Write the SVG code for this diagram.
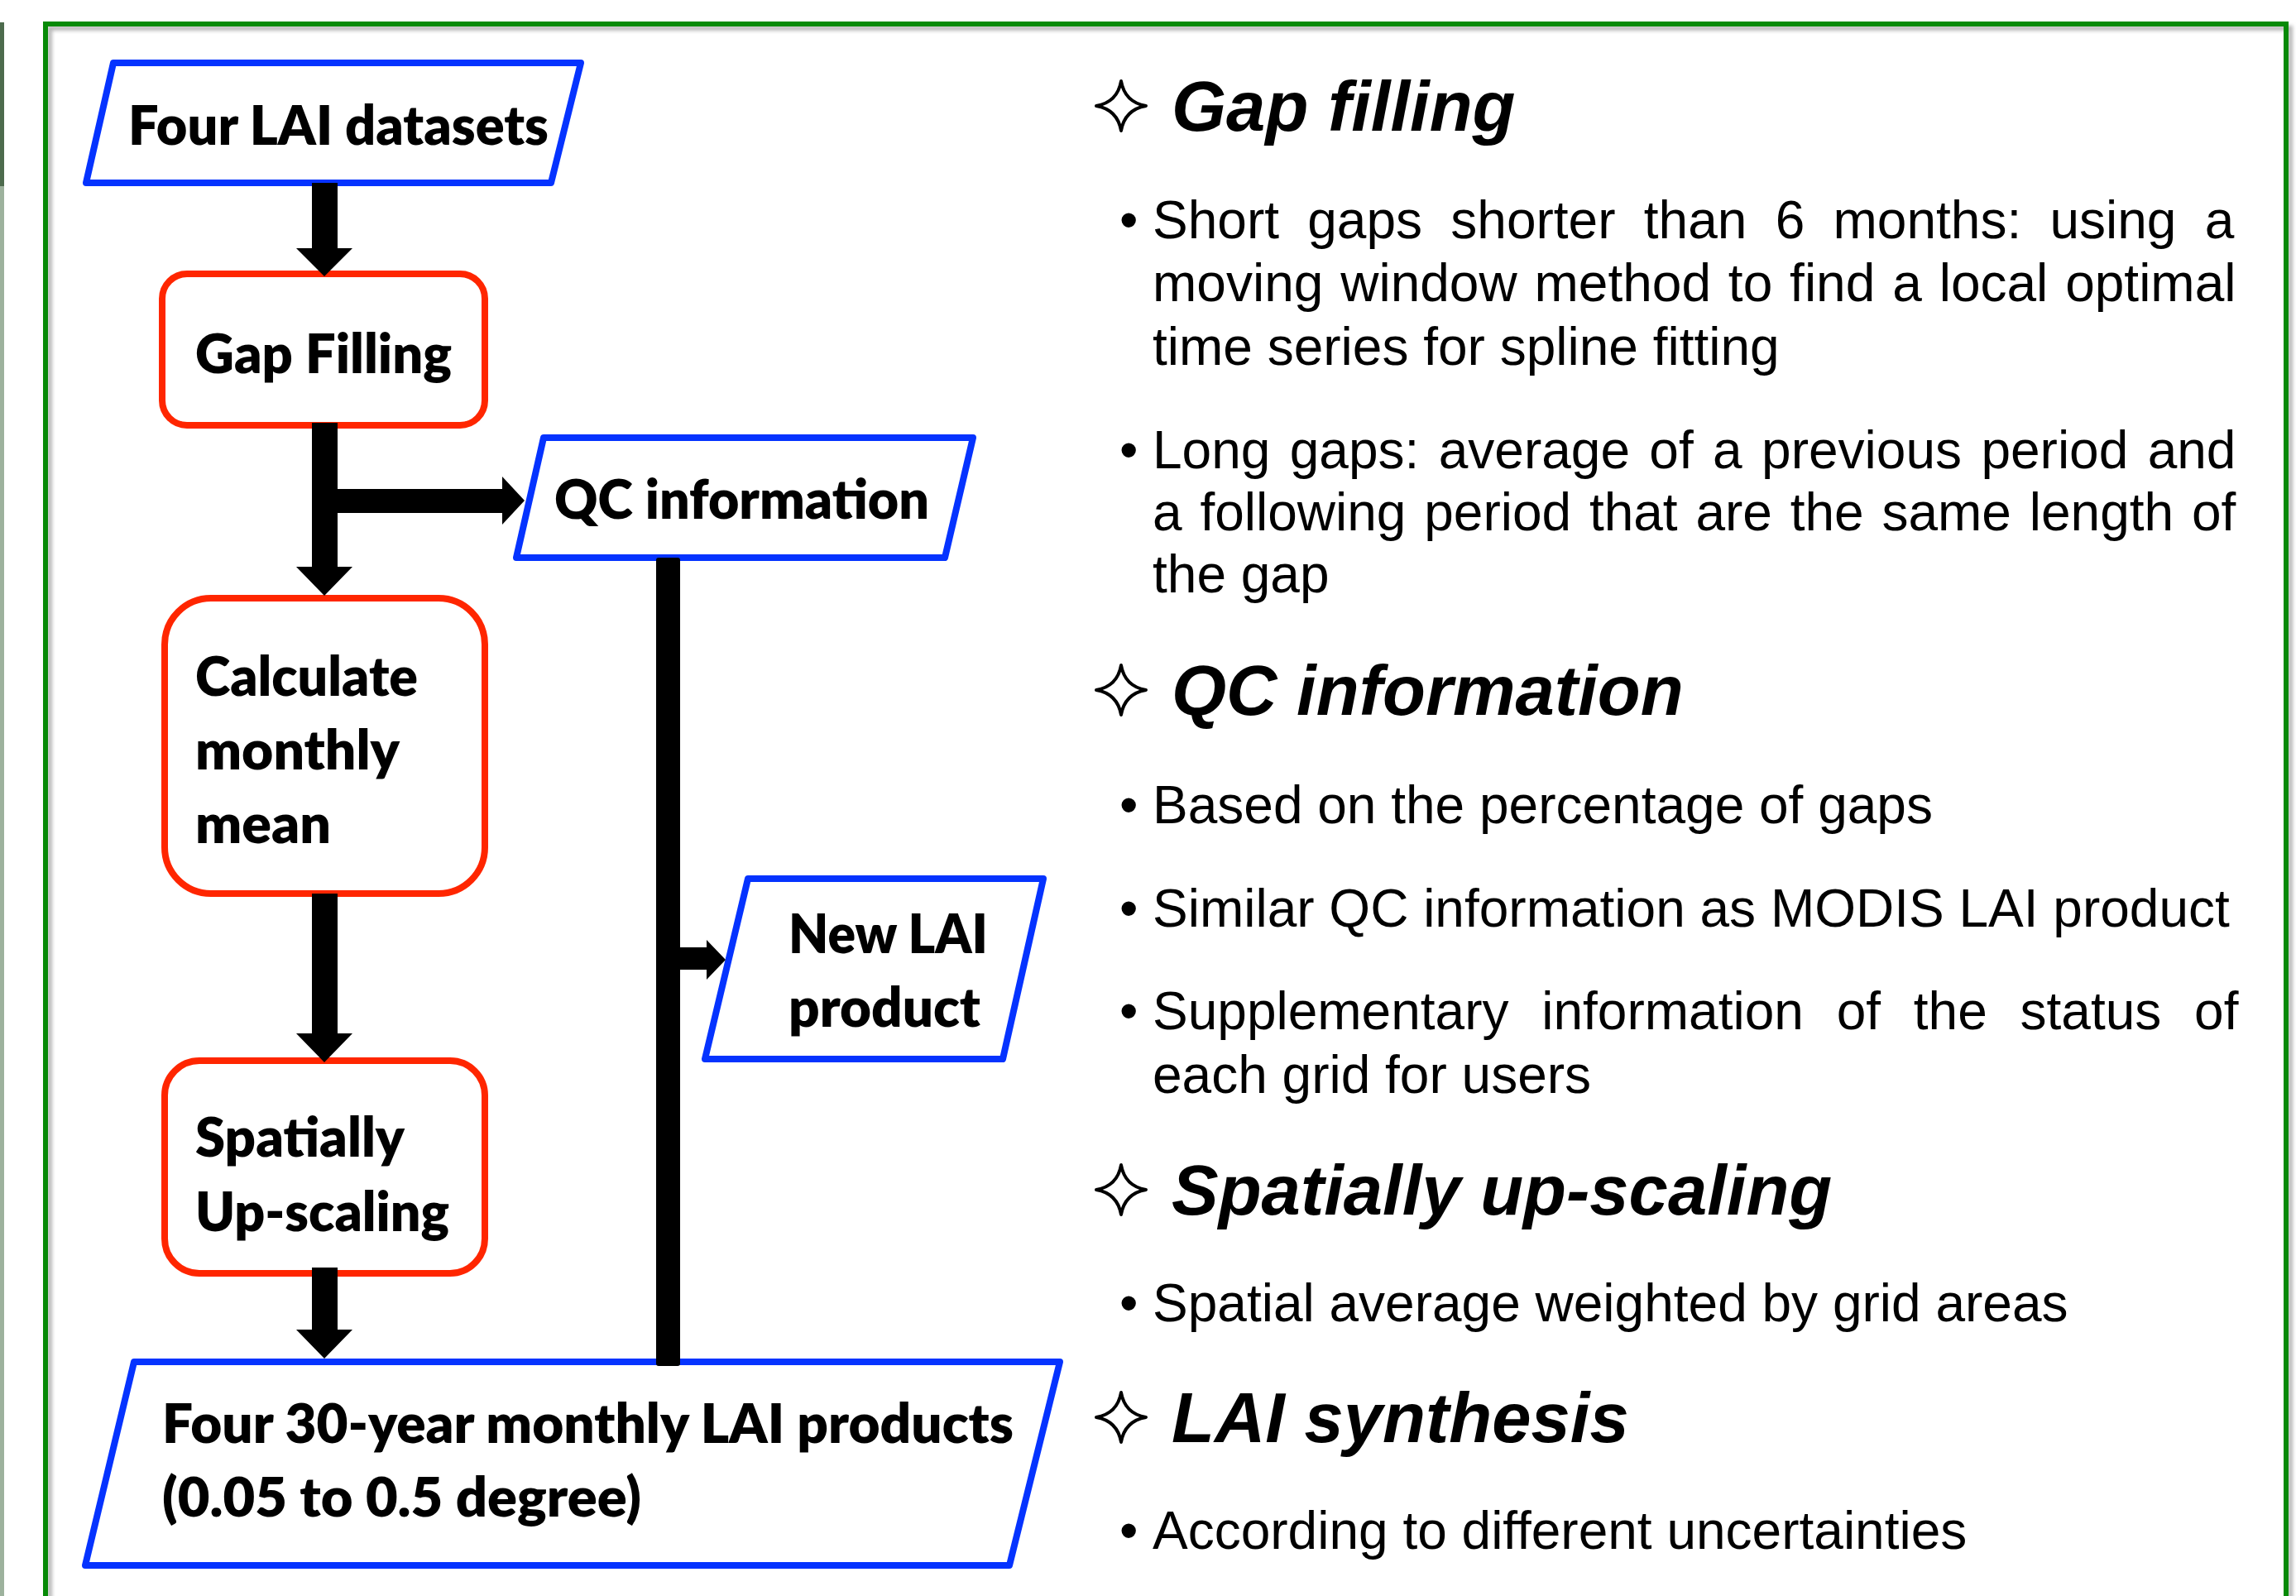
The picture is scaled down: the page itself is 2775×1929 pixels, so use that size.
<svg xmlns="http://www.w3.org/2000/svg" width="2775" height="1929" viewBox="0 0 2775 1929">
  <style>
    .io { fill: #ffffff; stroke: #0533ff; stroke-width: 8; stroke-linejoin: round; }
    .proc { fill: #ffffff; stroke: #ff2600; stroke-width: 8; }
    .flow { font-family: Lato, "Open Sans", "Liberation Sans", sans-serif; font-weight: 800; font-size: 66px; fill: #000; }
    .arrow { fill: #000; }
    .head { font-family: "Liberation Sans", Arial, sans-serif; font-weight: 700; font-style: italic; font-size: 85px; fill: #000; }
    .body { font-family: "Liberation Sans", Arial, sans-serif; font-size: 64px; fill: #000; }
    .star { fill: none; stroke: #000; stroke-width: 4; stroke-linejoin: round; }
  </style>
  <defs>
    <filter id="soft" x="-5%" y="-5%" width="110%" height="110%">
      <feGaussianBlur stdDeviation="2"/>
    </filter>
    <!-- four-pointed outline star used as section marker -->
    <path id="starMark" class="star" d="M0,-30 Q4.5,-4.5 30,0 Q4.5,4.5 0,30 Q-4.5,4.5 -30,0 Q-4.5,-4.5 0,-30 Z"/>
  </defs>

  <rect width="2775" height="1929" fill="#ffffff"/>

  <!-- edge of the neighbouring panel -->
  <rect x="0" y="27" width="5" height="198" fill="#4d6b4d"/>
  <rect x="0" y="225" width="5" height="1704" fill="#9db29d"/>

  <!-- green frame with soft shadow -->
  <rect x="60" y="34" width="2708" height="2000" fill="none" stroke="#b8b8b8" stroke-width="6" filter="url(#soft)"/>
  <rect x="55" y="29" width="2708" height="2000" fill="none" stroke="#078a07" stroke-width="6"/>

  <!-- flowchart nodes -->
  <g id="node-four-lai-datasets">
    <polygon class="io" points="137,76 702,76 666,221 104,221"/>
    <text class="flow" x="155" y="175" textLength="508" lengthAdjust="spacingAndGlyphs">Four LAI datasets</text>
  </g>
  <g id="node-gap-filling">
    <rect class="proc" x="196" y="331" width="390" height="183" rx="30" ry="30"/>
    <text class="flow" x="236" y="451" textLength="310" lengthAdjust="spacingAndGlyphs">Gap Filling</text>
  </g>
  <g id="node-qc-information">
    <polygon class="io" points="657,529 1176,529 1142,674 624,674"/>
    <text class="flow" x="670" y="627" textLength="453" lengthAdjust="spacingAndGlyphs">QC information</text>
  </g>
  <g id="node-monthly-mean">
    <rect class="proc" x="199" y="723" width="387" height="357" rx="56" ry="56"/>
    <text class="flow" x="236" y="841" textLength="269" lengthAdjust="spacingAndGlyphs">Calculate</text>
    <text class="flow" x="236" y="930" textLength="247" lengthAdjust="spacingAndGlyphs">monthly</text>
    <text class="flow" x="236" y="1019" textLength="164" lengthAdjust="spacingAndGlyphs">mean</text>
  </g>
  <g id="node-new-lai-product">
    <polygon class="io" points="904,1062 1261,1062 1212,1280 852,1280"/>
    <text class="flow" x="953" y="1152" textLength="241" lengthAdjust="spacingAndGlyphs">New LAI</text>
    <text class="flow" x="953" y="1241" textLength="232" lengthAdjust="spacingAndGlyphs">product</text>
  </g>
  <g id="node-upscaling">
    <rect class="proc" x="199" y="1282" width="387" height="257" rx="42" ry="42"/>
    <text class="flow" x="236" y="1398" textLength="253" lengthAdjust="spacingAndGlyphs">Spatially</text>
    <text class="flow" x="236" y="1488" textLength="307" lengthAdjust="spacingAndGlyphs">Up-scaling</text>
  </g>
  <g id="node-monthly-products">
    <polygon class="io" points="162,1646 1281,1646 1220,1892 103,1892"/>
    <text class="flow" x="196" y="1744" textLength="1029" lengthAdjust="spacingAndGlyphs">Four 30-year monthly LAI products</text>
    <text class="flow" x="196" y="1833" textLength="579" lengthAdjust="spacingAndGlyphs">(0.05 to 0.5 degree)</text>
  </g>

  <!-- block-arrow connectors -->
  <g id="connectors">
    <path class="arrow" d="M377,221 H408 V300 H426 L392,334 L358,300 H377 Z"/>
    <path class="arrow" d="M377,511 H408 V685 H426 L392,720 L358,685 H377 Z"/>
    <path class="arrow" d="M408,591 H607 V576 L634,605 L607,634 V620 H408 Z"/>
    <path class="arrow" d="M377,1080 H408 V1249 H426 L392,1284 L358,1249 H377 Z"/>
    <path class="arrow" d="M377,1532 H408 V1607 H426 L392,1642 L358,1607 H377 Z"/>
    <rect class="arrow" x="793" y="674" width="29" height="977" rx="3"/>
    <path class="arrow" d="M822,1145 H854 V1136 L877,1160 L854,1184 V1172 H822 Z"/>
  </g>

  <!-- method notes -->
  <g id="notes-gap-filling">
    <use href="#starMark" x="1355" y="128"/>
    <text class="head" x="1416" y="158">Gap filling</text>
    <text class="body" x="1353" y="288">•</text>
    <text class="body" x="1393" y="288" word-spacing="16.5">Short gaps shorter than 6 months: using a</text>
    <text class="body" x="1393" y="364" word-spacing="3.1">moving window method to find a local optimal</text>
    <text class="body" x="1393" y="441">time series for spline fitting</text>
    <text class="body" x="1353" y="566">•</text>
    <text class="body" x="1393" y="566" word-spacing="5.6">Long gaps: average of a previous period and</text>
    <text class="body" x="1393" y="641" word-spacing="4.0">a following period that are the same length of</text>
    <text class="body" x="1393" y="716">the gap</text>
  </g>
  <g id="notes-qc-information">
    <use href="#starMark" x="1355" y="834"/>
    <text class="head" x="1416" y="864">QC information</text>
    <text class="body" x="1353" y="995">•</text>
    <text class="body" x="1393" y="995">Based on the percentage of gaps</text>
    <text class="body" x="1353" y="1120">•</text>
    <text class="body" x="1393" y="1120">Similar QC information as MODIS LAI product</text>
    <text class="body" x="1353" y="1244">•</text>
    <text class="body" x="1393" y="1244" word-spacing="22">Supplementary information of the status of</text>
    <text class="body" x="1393" y="1321">each grid for users</text>
  </g>
  <g id="notes-upscaling">
    <use href="#starMark" x="1355" y="1438"/>
    <text class="head" x="1416" y="1468">Spatially up-scaling</text>
    <text class="body" x="1353" y="1597">•</text>
    <text class="body" x="1393" y="1597">Spatial average weighted by grid areas</text>
  </g>
  <g id="notes-synthesis">
    <use href="#starMark" x="1355" y="1713"/>
    <text class="head" x="1416" y="1743">LAI synthesis</text>
    <text class="body" x="1353" y="1872">•</text>
    <text class="body" x="1393" y="1872">According to different uncertainties</text>
  </g>
</svg>
